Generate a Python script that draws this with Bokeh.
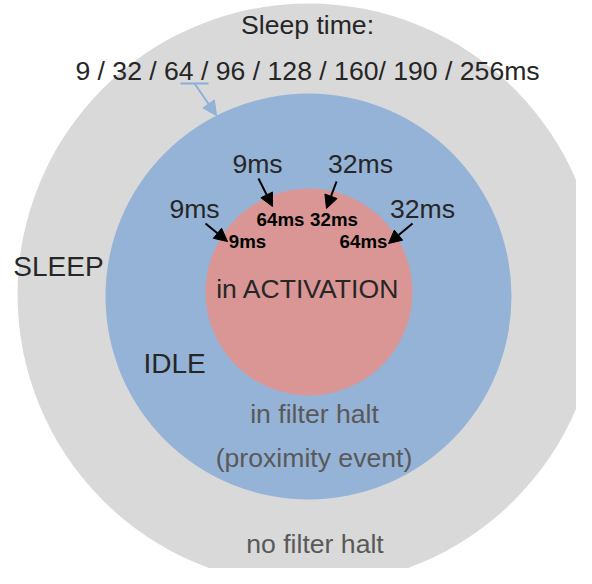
from bokeh.plotting import figure
from bokeh.models import Range1d, Arrow, NormalHead, ColumnDataSource
from bokeh.core.properties import value
from bokeh.embed import file_html
from bokeh.resources import INLINE

# --- content ---
rings = ["SLEEP", "IDLE", "ACTIVATION"]
ring_colors = ["#d9d9d9", "#95b3d7", "#d99694"]

title_labels = ["Sleep time:", "9 / 32 / 64 / 96 / 128 / 160/ 190 / 256ms", "in ACTIVATION"]
state_labels = ["SLEEP", "IDLE"]
grey_labels = ["in filter halt", "(proximity event)", "no filter halt"]
outer_ms = ["9ms", "32ms", "9ms", "32ms"]
inner_ms = ["64ms", "32ms", "9ms", "64ms"]

# --- layout (picture pixel coordinates) ---
ring_x = [308, 308, 308.5]
ring_y = [294, 296, 291.5]
ring_r = [291, 203, 103.5]

title_x = [307, 307, 307.5]
title_y = [24, 70, 288]
state_x = [58, 174]
state_y = [266, 363]
grey_x = [314, 313.5, 314.5]
grey_y = [413, 457, 543]
outer_x = [257, 360, 194, 422]
outer_y = [163, 163, 208, 208]
inner_x = [280, 333.5, 247, 363]
inner_y = [219, 219, 241, 241]
arrows = [(258, 178, 272, 206), (336, 181, 326, 208),
          (205, 223, 227, 241), (412, 223, 388, 243)]

FONT = value("Liberation Sans")

p = figure(width=576, height=568, output_backend="svg", toolbar_location=None,
           x_range=Range1d(0, 576), y_range=Range1d(568, 0),
           min_border=0, background_fill_color="white", border_fill_color="white")
p.axis.visible = False
p.grid.visible = False
p.outline_line_color = None

src = ColumnDataSource(dict(x=ring_x, y=ring_y, r=ring_r, c=ring_colors, name=rings))
p.circle(x="x", y="y", radius="r", fill_color="c", line_color=None, source=src)

p.text(x=title_x, y=title_y, text=title_labels, text_font=FONT, text_font_size="26.6px",
       text_color="#262626", text_align="center", text_baseline="middle")
p.text(x=state_x, y=state_y, text=state_labels, text_font=FONT, text_font_size="28px",
       text_color="#262626", text_align="center", text_baseline="middle")
p.text(x=grey_x, y=grey_y, text=grey_labels, text_font=FONT, text_font_size="26.6px",
       text_color="#595959", text_align="center", text_baseline="middle")
p.text(x=outer_x, y=outer_y, text=outer_ms, text_font=FONT, text_font_size="26.6px",
       text_color="#262626", text_align="center", text_baseline="middle")
p.text(x=inner_x, y=inner_y, text=inner_ms, text_font=FONT, text_font_size="18.7px",
       text_font_style="bold", text_color="black", text_align="center",
       text_baseline="middle")

for (xs, ys, xe, ye) in arrows:
    p.add_layout(Arrow(end=NormalHead(size=13, fill_color="black", line_color="black"),
                       x_start=xs, y_start=ys, x_end=xe, y_end=ye,
                       line_color="black", line_width=2))

# blue pointer from the sleep-time list to the IDLE ring
p.segment(x0=[180], y0=[83], x1=[208], y1=[83], line_color="#8eb0d8", line_width=2)
p.add_layout(Arrow(end=NormalHead(size=14, fill_color="#95b3d7", line_color="#8eb0d8"),
                   x_start=194, y_start=83, x_end=216, y_end=115,
                   line_color="#8eb0d8", line_width=2))

open("out.html", "w").write(file_html(p, INLINE))
